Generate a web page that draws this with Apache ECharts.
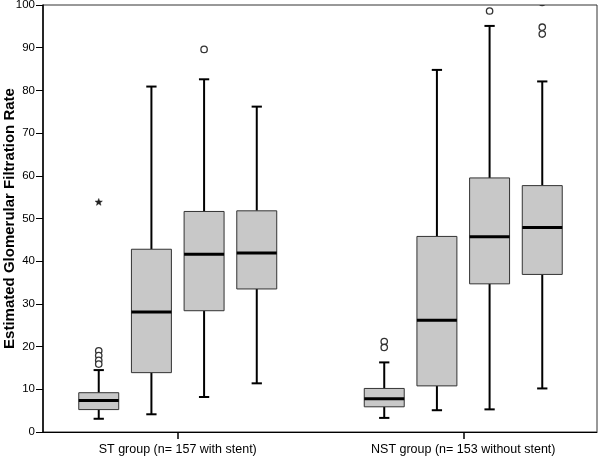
<!DOCTYPE html>
<html>
<head>
<meta charset="utf-8">
<script src="https://cdn.jsdelivr.net/npm/echarts@6/dist/echarts.min.js"></script>
<style>html,body{margin:0;padding:0;background:#fff}#c{width:600px;height:459px}</style>
</head>
<body>
<div id="c"></div>
<script>
// ---- data ----
const categories = ['ST group (n= 157 with stent)', 'NST group (n= 153 without stent)'];
const yTicks = [0, 10, 20, 30, 40, 50, 60, 70, 80, 90, 100];
// [min, Q1, median, Q3, max] for the four boxes of each group
const stBoxes = [
  [3.1, 5.25, 7.35, 9.2, 14.5],
  [4.15, 13.9, 28.1, 42.8, 80.9],
  [8.2, 28.4, 41.65, 51.65, 82.6],
  [11.4, 33.5, 41.9, 51.8, 76.2]
];
const nstBoxes = [
  [3.3, 5.9, 7.8, 10.2, 16.3],
  [5.1, 10.8, 26.2, 45.8, 84.8],
  [5.3, 34.7, 45.7, 59.5, 95.1],
  [10.2, 36.9, 47.9, 57.7, 82.1]
];
// outliers: [boxIndex, value]
const stOutliers = [[0, 19.0], [0, 17.9], [0, 16.8], [0, 15.9], [2, 89.6]];
const stExtremes = [[0, 53.8]];
const nstOutliers = [[0, 21.2], [0, 19.8], [2, 98.6], [3, 94.8], [3, 93.2], [3, 100.6]];
const nstExtremes = [];

// ---- build ----
const boxData = [];
[stBoxes, nstBoxes].forEach((g, gi) => g.forEach((b, k) => boxData.push([gi, k].concat(b))));
const outData = [];
[[stOutliers, stExtremes], [nstOutliers, nstExtremes]].forEach((pair, gi) => {
  pair[0].forEach(o => outData.push([gi, o[0], o[1], 0]));
  pair[1].forEach(o => outData.push([gi, o[0], o[1], 1]));
});

const SPACING = 0.1845, BOXW = 0.14, CAPW = 0.036;
function xOf(api, g, k) {
  const band = api.size([1, 0])[0];
  return api.coord([g, 0])[0] + (k - 1.5) * band * SPACING;
}
function renderBox(params, api) {
  const g = api.value(0), k = api.value(1);
  const band = api.size([1, 0])[0];
  const cx = xOf(api, g, k);
  const hw = band * BOXW / 2, cw = band * CAPW / 2;
  const y = i => api.coord([g, api.value(i)])[1];
  const yMin = y(2), yQ1 = y(3), yMed = y(4), yQ3 = y(5), yMax = y(6);
  const ls = { stroke: '#000', lineWidth: 2 };
  return {
    type: 'group',
    children: [
      { type: 'line', shape: { x1: cx, y1: yQ3, x2: cx, y2: yMax }, style: ls },
      { type: 'line', shape: { x1: cx, y1: yQ1, x2: cx, y2: yMin }, style: ls },
      { type: 'line', shape: { x1: cx - cw, y1: yMax, x2: cx + cw, y2: yMax }, style: ls },
      { type: 'line', shape: { x1: cx - cw, y1: yMin, x2: cx + cw, y2: yMin }, style: ls },
      { type: 'rect', shape: { x: cx - hw, y: yQ3, width: 2 * hw, height: yQ1 - yQ3 },
        style: { fill: '#c8c8c8', stroke: '#333', lineWidth: 1 } },
      { type: 'line', shape: { x1: cx - hw, y1: yMed, x2: cx + hw, y2: yMed }, style: { stroke: '#000', lineWidth: 3 } }
    ]
  };
}
function renderOut(params, api) {
  const g = api.value(0), k = api.value(1), v = api.value(2), t = api.value(3);
  const cx = xOf(api, g, k);
  const cy = api.coord([g, v])[1];
  if (t === 1) {
    const pts = [];
    for (let i = 0; i < 10; i++) {
      const r = i % 2 === 0 ? 3.8 : 1.6;
      const a = -Math.PI / 2 + i * Math.PI / 5;
      pts.push([cx + r * Math.cos(a), cy + r * Math.sin(a)]);
    }
    return { type: 'polygon', shape: { points: pts }, style: { fill: '#222', stroke: '#222', lineWidth: 0.5 } };
  }
  return { type: 'circle', shape: { cx: cx, cy: cy, r: 3.2 },
    style: { fill: '#fff', stroke: '#333', lineWidth: 1.3 } };
}

const font = 'Liberation Sans, Arial, sans-serif';
const chart = echarts.init(document.getElementById('c'), null, { renderer: 'canvas' });
chart.setOption({
  backgroundColor: '#fff',
  animation: false,
  grid: [
    { left: 43, right: 3, top: 5, bottom: 27, show: true, borderColor: '#333', borderWidth: 1,
      backgroundColor: 'transparent', containLabel: false, outerBoundsMode: 'none' },
    { left: 35, width: 571, top: 5, bottom: 27, containLabel: false, outerBoundsMode: 'none' }
  ],
  xAxis: [
    { type: 'value', gridIndex: 0, min: 0, max: 1, axisLine: { show: true, lineStyle: { color: '#000', width: 1 } },
      axisTick: { show: false }, axisLabel: { show: false }, splitLine: { show: false } },
    { type: 'category', gridIndex: 1, data: categories, boundaryGap: true,
      axisLine: { show: false },
      axisTick: { show: true, alignWithLabel: true, length: 7, lineStyle: { color: '#000', width: 1.5 } },
      axisLabel: { color: '#000', fontSize: 12.5, fontFamily: font, margin: 11 },
      splitLine: { show: false } }
  ],
  yAxis: [
    { type: 'value', gridIndex: 0, min: yTicks[0], max: yTicks[yTicks.length - 1], interval: yTicks[1] - yTicks[0],
      name: 'Estimated Glomerular Filtration Rate', nameLocation: 'middle', nameGap: 26, nameMoveOverlap: false,
      nameTextStyle: { color: '#000', fontSize: 15, fontWeight: 'bold', fontFamily: font },
      axisLine: { show: true, lineStyle: { color: '#000', width: 1.5 } },
      axisTick: { show: true, length: 7, lineStyle: { color: '#000', width: 1 } },
      axisLabel: { color: '#000', fontSize: 11.5, fontFamily: font, margin: 8 },
      splitLine: { show: false } },
    { type: 'value', gridIndex: 1, min: yTicks[0], max: yTicks[yTicks.length - 1], show: false, splitLine: { show: false } }
  ],
  series: [
    { type: 'custom', xAxisIndex: 1, yAxisIndex: 1, renderItem: renderBox, data: boxData, clip: true, silent: true },
    { type: 'custom', xAxisIndex: 1, yAxisIndex: 1, renderItem: renderOut, data: outData, clip: true, silent: true }
  ]
});
</script>
</body>
</html>
